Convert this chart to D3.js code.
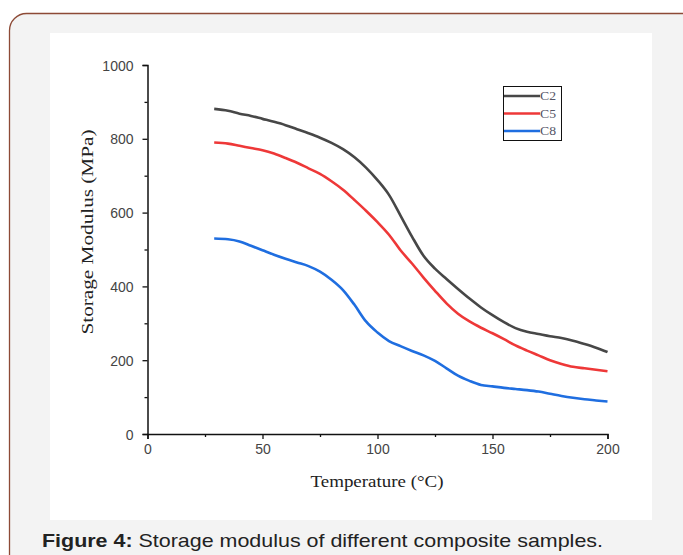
<!DOCTYPE html>
<html><head><meta charset="utf-8">
<script src="https://cdn.jsdelivr.net/npm/d3@7"></script>
<style>html,body{margin:0;padding:0;background:#fff;}svg{display:block;}</style>
</head><body>
<svg id="c" width="683" height="555"></svg>
<script>
const temps = [29,35,40,45,50,55,60,65,70,75,80,85,90,95,100,105,110,115,120,125,130,135,140,145,150,155,160,165,170,175,180,185,190,195,200];
const c2 = [881,876,868,862,854,846,837,826,815,803,789,772,750,722,688,648,592,535,483,448,420,393,367,343,322,303,287,277,271,265,260,253,244,234,222];
const c5 = [790,787,781,775,769,760,748,735,720,705,685,662,634,605,574,540,498,462,424,388,354,326,305,288,273,257,240,226,213,200,190,182,178,174,170];
const c8 = [530,528,522,510,498,486,475,465,455,440,418,390,350,305,275,252,238,225,213,198,178,158,144,133,129,125,122,119,115,109,103,98,94,91,88];
const seriesNames = ["C2","C5","C8"];
const seriesColors = ["#474747","#ee3838","#1f6ee0"];
const xTicks = [0,50,100,150,200];
const yTicks = [0,200,400,600,800,1000];
const xMinor = [25,75,125,175];
const yMinor = [100,300,500,700,900];

const svg = d3.select("#c");
// outer panel
svg.append("rect").attr("x",9.5).attr("y",13.5).attr("width",690).attr("height",560)
  .attr("rx",17).attr("fill","#f3f3f3").attr("stroke","#8d4a36").attr("stroke-width",1.3);
svg.append("rect").attr("x",50).attr("y",33).attr("width",602).attr("height",487).attr("fill","#fff");

const x = d3.scaleLinear().domain([0,200]).range([147.5,607.5]);
const y = d3.scaleLinear().domain([0,1000]).range([434,65]);

const g = svg.append("g");
// axes
const xAxis = g.append("g").attr("transform","translate(0,434)")
  .call(d3.axisBottom(x).tickValues(xTicks).tickSize(5).tickPadding(5).tickFormat(d3.format("d")));
const yAxis = g.append("g").attr("transform","translate(147.5,0)")
  .call(d3.axisLeft(y).tickValues(yTicks).tickSize(5).tickPadding(9).tickFormat(d3.format("d")));
g.append("g").attr("transform","translate(0,434)")
  .call(d3.axisBottom(x).tickValues(xMinor).tickSize(3).tickFormat(""))
  .select(".domain").remove();
g.append("g").attr("transform","translate(147.5,0)")
  .call(d3.axisLeft(y).tickValues(yMinor).tickSize(3).tickFormat(""))
  .select(".domain").remove();
g.selectAll(".domain").attr("stroke","#111").attr("stroke-width",1.5);
g.selectAll(".tick line").attr("stroke","#111").attr("stroke-width",1.3);
g.selectAll(".tick text").attr("font-family","Liberation Sans, Arial, sans-serif")
  .attr("font-size",14).attr("fill","#444");
yAxis.selectAll(".tick text").attr("dy","0.36em");

// lines
const data = [c2,c5,c8];
const line = d3.line().x((d,i)=>x(temps[i])).y(d=>y(d)).curve(d3.curveMonotoneX);
data.forEach((s,k)=>{
  g.append("path").datum(s).attr("d",line).attr("fill","none")
   .attr("stroke",seriesColors[k]).attr("stroke-width",2.6);
});

// axis titles
svg.append("text").attr("x",377).attr("y",487).attr("text-anchor","middle")
  .attr("font-family","Liberation Serif, Times New Roman, serif").attr("font-size",17)
  .attr("fill","#222").attr("textLength",133).attr("lengthAdjust","spacingAndGlyphs")
  .text("Temperature (°C)");
svg.append("text").attr("transform","translate(93,232) rotate(-90)").attr("text-anchor","middle")
  .attr("font-family","Liberation Serif, Times New Roman, serif").attr("font-size",17)
  .attr("fill","#222").attr("textLength",205).attr("lengthAdjust","spacingAndGlyphs")
  .text("Storage Modulus (MPa)");

// legend
const lg = svg.append("g");
lg.append("rect").attr("x",503.5).attr("y",86.5).attr("width",58).attr("height",54)
  .attr("fill","#fff").attr("stroke","#111").attr("stroke-width",1);
seriesNames.forEach((n,k)=>{
  const yy = 96 + k*17.5;
  lg.append("line").attr("x1",504).attr("x2",540).attr("y1",yy).attr("y2",yy)
    .attr("stroke",seriesColors[k]).attr("stroke-width",2.6);
  lg.append("text").attr("x",540).attr("y",yy+4).attr("font-family","Liberation Serif, Times New Roman, serif")
    .attr("font-size",12).attr("fill","#556").attr("textLength",16).attr("lengthAdjust","spacingAndGlyphs").text(n);
});

// caption
const cap = svg.append("text").attr("x",42).attr("y",547)
  .attr("font-family","Liberation Sans, Arial, sans-serif").attr("font-size",18.5).attr("fill","#222")
  .attr("textLength",561).attr("lengthAdjust","spacingAndGlyphs");
cap.append("tspan").attr("font-weight","bold").text("Figure 4:");
cap.append("tspan").text(" Storage modulus of different composite samples.");
</script>
</body></html>
